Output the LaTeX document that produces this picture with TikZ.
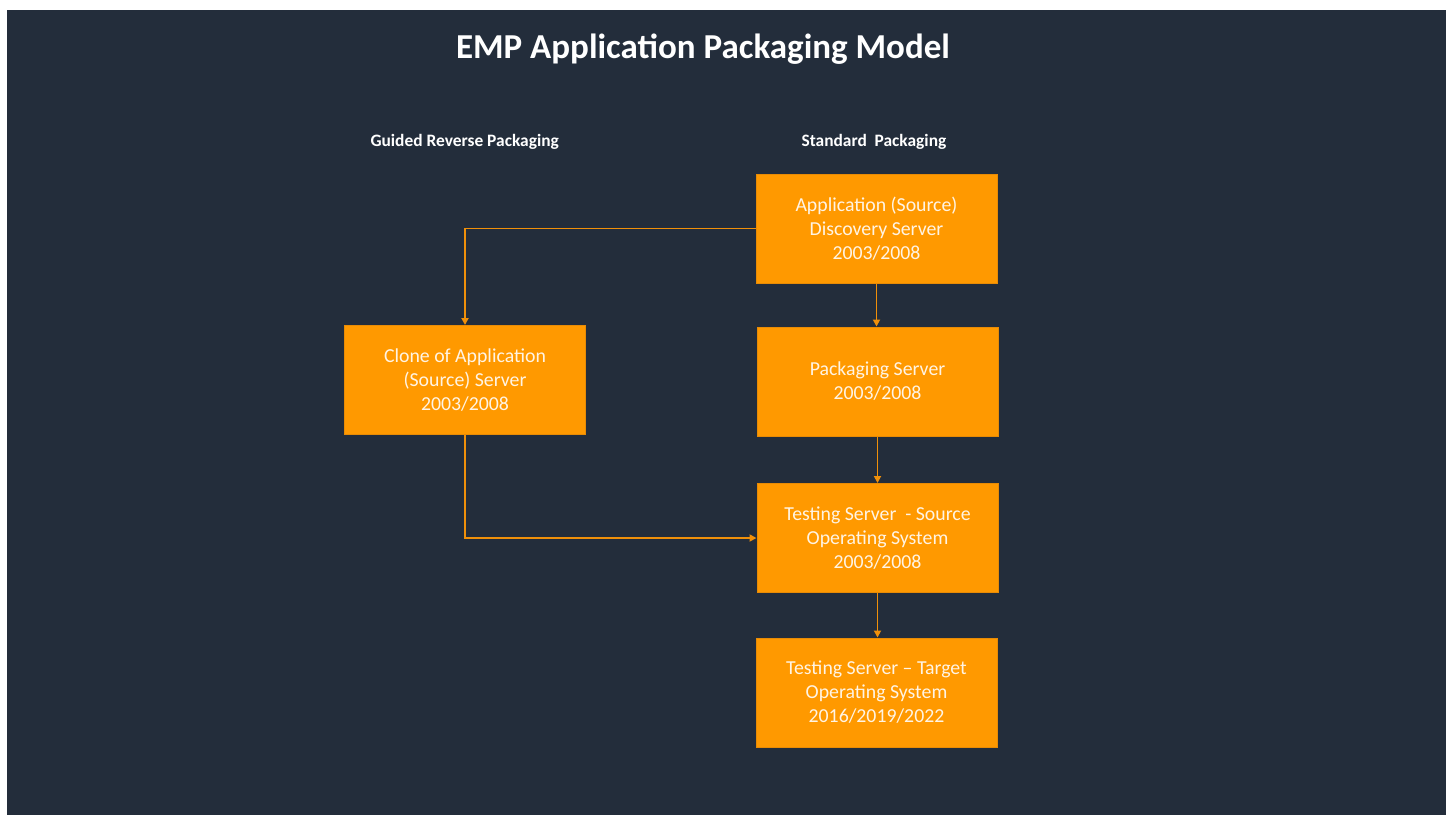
\documentclass[tikz,border=0pt]{standalone}
\usepackage{fontspec}
\setmainfont{Carlito}
\usetikzlibrary{arrows.meta,positioning}
\definecolor{slate}{HTML}{232D3B}
\definecolor{amber}{HTML}{FF9900}
\definecolor{amberedge}{HTML}{E88B05}
\definecolor{amberline}{HTML}{F0900A}
\definecolor{paletext}{HTML}{FFF4E4}
\tikzset{
  stage/.style={draw=amberedge, line width=1pt, fill=amber, text=paletext,
    minimum width=241pt, minimum height=109pt, align=center,
    font=\fontsize{19.8}{24}\selectfont, inner sep=0pt},
  flow/.style={draw=amberline, line width=1.8pt,
    -{Triangle[length=7pt,width=7pt]}},
  heading/.style={text=white, font=\bfseries\fontsize{17.4}{20}\selectfont, anchor=west},
}
\begin{document}
\begin{tikzpicture}[x=1pt,y=-1pt]
  \useasboundingbox (0,0) rectangle (1448,815);
  \fill[white] (0,0) rectangle (1448,815);
  \fill[slate] (7,10) rectangle (1446,815);

  \node[text=white, font=\bfseries\fontsize{35}{40}\selectfont] (title) at (703,49)
    {EMP Application Packaging Model};
  \node[heading] (lefthead) at (367,142) {Guided Reverse Packaging};
  \node[heading] (righthead) at (798,142) {Standard\ \ Packaging};

  \node[stage] (disc) at (876.5,228.5) {Application (Source)\\Discovery Server\\2003/2008};
  \node[stage] (pack) at (877.5,381.5) {Packaging Server\\2003/2008};
  \node[stage] (clone) at (465,380) {Clone of Application\\(Source) Server\\2003/2008};
  \node[stage] (testsrc) at (877.5,538) {Testing Server\ \ - Source\\Operating System\\2003/2008};
  \node[stage] (testtgt) at (876.5,692.5) {Testing Server -- Target\\Operating System\\2016/2019/2022};

  \draw[flow] (disc.west) -| (clone.north);
  \draw[flow] (disc.south) -- (pack.north -| disc.south);
  \draw[flow] (pack.south) -- (testsrc.north -| pack.south);
  \draw[flow] (clone.south) |- (testsrc.west);
  \draw[flow] (testsrc.south) -- (testtgt.north -| testsrc.south);
\end{tikzpicture}
\end{document}
